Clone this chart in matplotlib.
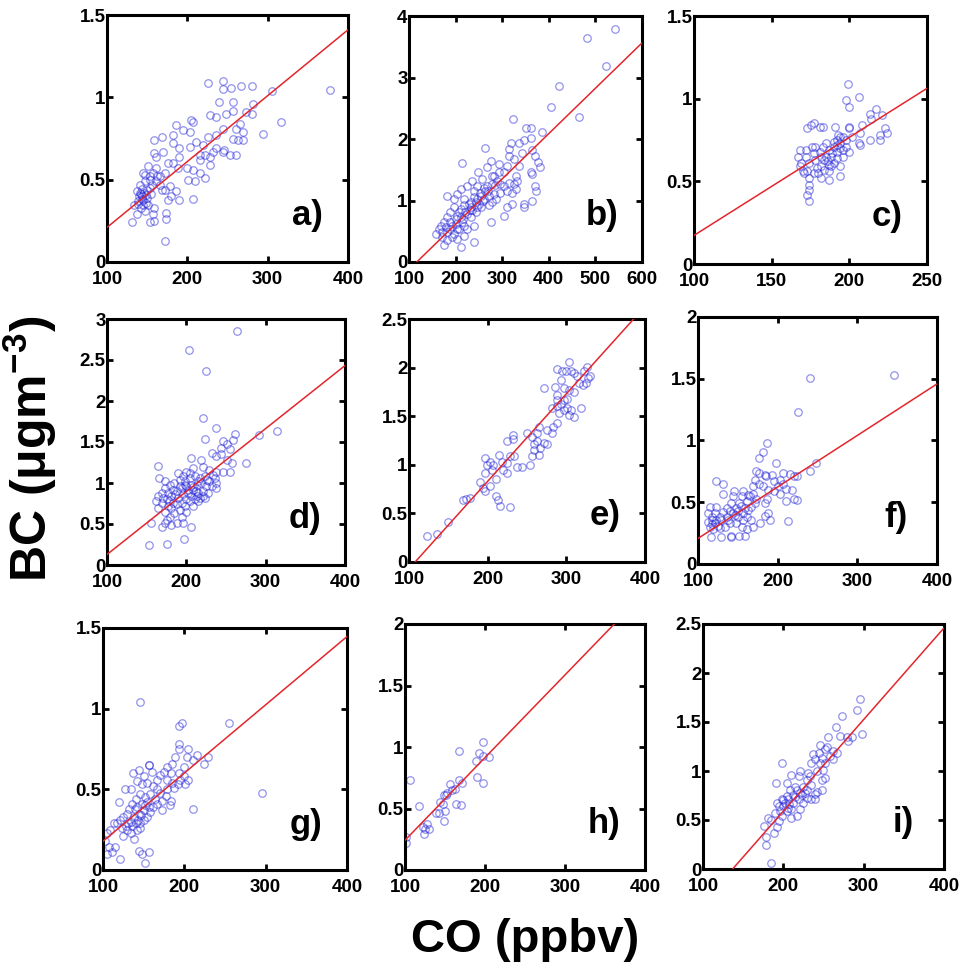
import matplotlib.pyplot as plt
import numpy as np

plt.rcParams['font.family'] = ['Liberation Sans', 'DejaVu Sans']
plt.rcParams['font.weight'] = 'bold'
plt.rcParams['mathtext.fontset'] = 'custom'
plt.rcParams['mathtext.rm'] = 'Liberation Sans:bold'
plt.rcParams['mathtext.bf'] = 'Liberation Sans:bold'

# ---- data: (CO ppbv, BC ugm-3) ----
a_pts = [(378, 1.045), (306, 1.04), (316, 0.85), (294, 0.78), (226, 1.085), (245, 1.10), (244, 1.05),
         (254, 1.055), (267, 1.07), (280, 1.07), (282, 0.96), (280, 0.90), (273, 0.91), (257, 0.97),
         (257, 0.92), (240, 0.97), (236, 0.88), (248, 0.90), (228, 0.89), (265, 0.84), (269, 0.79),
         (261, 0.81), (244, 0.81), (236, 0.77), (257, 0.75), (263, 0.74), (269, 0.74), (205, 0.86),
         (207, 0.85), (203, 0.79), (195, 0.80), (186, 0.83), (182, 0.77), (169, 0.76), (158, 0.74),
         (182, 0.72), (190, 0.69), (203, 0.70), (211, 0.73), (220, 0.71), (226, 0.76), (216, 0.65),
         (232, 0.67), (236, 0.69), (244, 0.67), (253, 0.65), (261, 0.65), (246, 0.68), (228, 0.64),
         (228, 0.59), (216, 0.54), (207, 0.56), (199, 0.57), (201, 0.50), (210, 0.49), (207, 0.385),
         (188, 0.57), (182, 0.60), (190, 0.64), (176, 0.60), (172, 0.54), (161, 0.57), (157, 0.54),
         (161, 0.64), (159, 0.66), (151, 0.58), (145, 0.54), (153, 0.52), (147, 0.49), (141, 0.47),
         (137, 0.43), (141, 0.42), (143, 0.40), (139, 0.37), (134, 0.345), (145, 0.375), (149, 0.405),
         (153, 0.45), (161, 0.49), (166, 0.47), (172, 0.44), (178, 0.46), (186, 0.43), (190, 0.375),
         (180, 0.40), (176, 0.375), (174, 0.30), (173, 0.26), (172, 0.13), (159, 0.25), (153, 0.24),
         (131, 0.24), (137, 0.29), (147, 0.31), (157, 0.29), (159, 0.33), (151, 0.345), (142, 0.415),
         (153, 0.50), (166, 0.52), (168, 0.44), (222, 0.51), (216, 0.62), (222, 0.65), (170, 0.67),
         (147, 0.53), (143, 0.445), (140, 0.40), (145, 0.345), (144, 0.38), (146, 0.42), (150, 0.44),
         (155, 0.41), (148, 0.36), (156, 0.47), (162, 0.52), (139, 0.35), (142, 0.33), (150, 0.39)]

b_pts = [(541, 3.79), (482, 3.65), (523, 3.19), (421, 2.86), (405, 2.52), (464, 2.36), (324, 2.33),
         (386, 2.11), (351, 2.18), (361, 2.18), (361, 2.02), (346, 1.99), (336, 1.93), (318, 1.93),
         (314, 1.83), (343, 1.78), (364, 1.82), (371, 1.73), (376, 1.62), (381, 1.54), (361, 1.46),
         (364, 1.43), (314, 1.73), (325, 1.67), (336, 1.56), (311, 1.56), (293, 1.59), (293, 1.46),
         (304, 1.46), (329, 1.40), (325, 1.27), (314, 1.29), (311, 1.16), (371, 1.24), (373, 1.16),
         (364, 1.00), (346, 0.94), (346, 0.89), (321, 0.94), (311, 0.89), (304, 0.75), (279, 0.97),
         (275, 0.65), (275, 1.64), (263, 1.85), (214, 1.61), (248, 1.47), (268, 1.54), (282, 1.40),
         (289, 1.32), (279, 1.27), (268, 1.24), (257, 1.35), (246, 1.24), (239, 1.16), (236, 1.32),
         (225, 1.24), (211, 1.19), (204, 1.11), (182, 1.08), (196, 1.02), (218, 1.02), (232, 0.97),
         (246, 1.02), (261, 1.02), (271, 1.08), (282, 1.11), (254, 0.89), (243, 0.81), (232, 0.73),
         (221, 0.81), (211, 0.86), (204, 0.75), (189, 0.81), (182, 0.73), (175, 0.65), (189, 0.65),
         (200, 0.62), (214, 0.65), (225, 0.54), (239, 0.59), (218, 0.43), (239, 0.32), (212, 0.24),
         (175, 0.27), (171, 0.40), (164, 0.54), (157, 0.46), (168, 0.59), (182, 0.49), (196, 0.46),
         (204, 0.38), (193, 0.40), (182, 0.35), (189, 0.54), (204, 0.54), (211, 0.73), (196, 0.89),
         (218, 0.92), (232, 0.89), (243, 0.97), (254, 1.08), (264, 1.16), (207, 0.81), (225, 0.78),
         (236, 0.84), (250, 0.94), (200, 0.70), (193, 0.59), (179, 0.57), (171, 0.49), (207, 0.54),
         (218, 0.59), (271, 0.92), (286, 1.02), (296, 1.13), (304, 1.24), (296, 1.27), (321, 1.13),
         (329, 1.19), (332, 1.32), (279, 1.40), (228, 0.95), (240, 1.05), (252, 1.12), (262, 1.20),
         (215, 0.70), (230, 0.85), (245, 0.90), (258, 1.00), (270, 1.15), (285, 1.25)]

c_pts = [(199, 1.09), (198, 0.99), (200, 0.95), (206, 1.01), (217, 0.94), (213, 0.91), (214, 0.88),
         (221, 0.90), (208, 0.84), (200, 0.83), (200, 0.82), (191, 0.83), (183, 0.83), (181, 0.83),
         (177, 0.85), (173, 0.82), (175, 0.84), (223, 0.82), (224, 0.79), (220, 0.78), (220, 0.75),
         (213, 0.75), (206, 0.73), (207, 0.79), (202, 0.77), (198, 0.75), (194, 0.77), (192, 0.75),
         (194, 0.73), (190, 0.71), (187, 0.69), (185, 0.73), (183, 0.71), (181, 0.68), (182, 0.65),
         (185, 0.65), (188, 0.65), (192, 0.68), (196, 0.69), (200, 0.68), (198, 0.71), (194, 0.70),
         (190, 0.61), (187, 0.60), (184, 0.57), (187, 0.56), (188, 0.59), (194, 0.59), (194, 0.53),
         (187, 0.51), (182, 0.52), (180, 0.55), (177, 0.55), (173, 0.56), (170, 0.56), (168, 0.59),
         (169, 0.61), (167, 0.65), (168, 0.69), (172, 0.69), (176, 0.71), (178, 0.71), (177, 0.67),
         (172, 0.65), (174, 0.61), (178, 0.63), (174, 0.52), (174, 0.48), (174, 0.45), (173, 0.42),
         (174, 0.38), (182, 0.59), (184, 0.63), (192, 0.64), (196, 0.65), (207, 0.72), (193, 0.78),
         (196, 0.77), (179, 0.58), (171, 0.55), (190, 0.74), (192, 0.72), (189, 0.67), (186, 0.62)]

d_pts = [(264, 2.85), (203, 2.62), (225, 2.37), (221, 1.79), (237, 1.67), (224, 1.54), (261, 1.60),
         (259, 1.53), (292, 1.58), (314, 1.63), (246, 1.51), (251, 1.47), (244, 1.43), (238, 1.33),
         (232, 1.37), (244, 1.35), (255, 1.41), (251, 1.28), (275, 1.24), (257, 1.24), (255, 1.14),
         (246, 1.14), (206, 1.30), (218, 1.28), (164, 1.21), (166, 1.06), (190, 1.12), (200, 1.14),
         (209, 1.18), (221, 1.20), (229, 1.16), (238, 1.14), (236, 1.06), (229, 1.02), (223, 1.08),
         (217, 1.06), (211, 1.08), (204, 1.06), (198, 1.02), (192, 1.04), (185, 1.00), (179, 0.98),
         (173, 1.02), (173, 0.94), (169, 0.88), (164, 0.84), (162, 0.78), (164, 0.70), (169, 0.76),
         (175, 0.80), (181, 0.84), (188, 0.90), (194, 0.94), (200, 0.96), (206, 0.98), (213, 0.98),
         (219, 1.00), (225, 0.96), (232, 0.96), (238, 1.00), (237, 0.94), (221, 0.90), (215, 0.88),
         (209, 0.92), (202, 0.88), (196, 0.86), (190, 0.82), (183, 0.76), (177, 0.72), (173, 0.65),
         (179, 0.59), (185, 0.63), (192, 0.67), (198, 0.72), (204, 0.78), (211, 0.80), (217, 0.82),
         (223, 0.82), (215, 0.78), (209, 0.72), (200, 0.65), (194, 0.59), (188, 0.51), (181, 0.49),
         (173, 0.51), (169, 0.46), (175, 0.55), (196, 0.51), (206, 0.46), (197, 0.32), (175, 0.26),
         (153, 0.25), (155, 0.51), (221, 0.84), (227, 0.88), (204, 1.12), (196, 1.08), (192, 0.96),
         (183, 0.92), (177, 0.88), (171, 0.82), (181, 0.70), (188, 0.74), (194, 0.76), (200, 0.80),
         (206, 0.84), (213, 0.84), (202, 0.92), (208, 0.95), (215, 1.02), (226, 1.04), (233, 1.10),
         (186, 0.86), (178, 0.78), (198, 0.98), (212, 0.90)]

e_pts = [(123, 0.27), (136, 0.29), (149, 0.41), (169, 0.64), (173, 0.65), (178, 0.66), (190, 0.82),
         (194, 0.76), (196, 0.73), (203, 0.78), (196, 0.92), (197, 1.07), (199, 1.00), (203, 1.03),
         (205, 0.95), (210, 0.85), (210, 0.68), (213, 0.64), (216, 0.58), (228, 0.57), (214, 1.10),
         (218, 1.03), (220, 0.95), (225, 0.92), (225, 1.02), (229, 1.09), (225, 1.25), (232, 1.31),
         (232, 1.27), (233, 1.09), (237, 0.98), (244, 0.98), (207, 1.00), (254, 1.00), (256, 1.09),
         (259, 1.21), (256, 1.29), (263, 1.33), (263, 1.24), (259, 1.15), (265, 1.10), (267, 1.17),
         (271, 1.22), (276, 1.21), (271, 1.79), (276, 1.36), (282, 1.33), (283, 1.39), (288, 1.43),
         (282, 1.58), (288, 1.60), (291, 1.53), (293, 1.63), (297, 1.56), (301, 1.58), (306, 1.56),
         (303, 1.51), (310, 1.49), (319, 1.58), (297, 1.67), (301, 1.68), (303, 1.77), (288, 1.72),
         (286, 1.80), (288, 1.99), (293, 1.87), (295, 1.96), (299, 1.96), (303, 2.06), (306, 1.97),
         (310, 1.94), (313, 1.91), (316, 1.84), (321, 1.82), (325, 1.84), (323, 1.97), (326, 2.01),
         (327, 1.89), (330, 1.91), (310, 1.75), (297, 1.79), (288, 1.67), (265, 1.39), (250, 1.33)]

f_pts = [(346, 1.53), (241, 1.51), (226, 1.23), (187, 0.98), (181, 0.91), (176, 0.86), (198, 0.82),
         (248, 0.82), (240, 0.75), (173, 0.75), (176, 0.74), (123, 0.67), (131, 0.65), (131, 0.57),
         (145, 0.59), (184, 0.72), (193, 0.72), (185, 0.71), (207, 0.74), (215, 0.73), (220, 0.71),
         (224, 0.71), (171, 0.68), (169, 0.63), (177, 0.65), (181, 0.63), (188, 0.60), (195, 0.59),
         (201, 0.63), (207, 0.65), (211, 0.61), (218, 0.60), (220, 0.53), (211, 0.51), (224, 0.52),
         (213, 0.35), (203, 0.57), (187, 0.53), (184, 0.49), (188, 0.41), (184, 0.39), (190, 0.36),
         (178, 0.33), (165, 0.55), (161, 0.51), (155, 0.55), (152, 0.49), (148, 0.45), (142, 0.49),
         (136, 0.45), (131, 0.42), (127, 0.38), (121, 0.41), (117, 0.36), (115, 0.30), (119, 0.28),
         (116, 0.22), (129, 0.22), (141, 0.23), (142, 0.22), (152, 0.23), (159, 0.23), (161, 0.28),
         (155, 0.30), (148, 0.33), (140, 0.33), (134, 0.30), (127, 0.29), (121, 0.33), (113, 0.41),
         (115, 0.46), (123, 0.46), (129, 0.36), (136, 0.38), (144, 0.41), (150, 0.38), (157, 0.41),
         (163, 0.44), (167, 0.46), (171, 0.49), (173, 0.53), (161, 0.38), (167, 0.36), (169, 0.30),
         (157, 0.36), (150, 0.43), (144, 0.55), (157, 0.59), (163, 0.56), (169, 0.57), (117, 0.38),
         (123, 0.36), (140, 0.43), (138, 0.36), (195, 0.67), (203, 0.68), (118, 0.32), (125, 0.31),
         (112, 0.34), (154, 0.47), (159, 0.45), (146, 0.40)]

g_pts = [(146, 1.04), (255, 0.91), (197, 0.91), (194, 0.89), (295, 0.48), (193, 0.78), (193, 0.75),
         (205, 0.75), (216, 0.71), (229, 0.70), (224, 0.66), (211, 0.68), (203, 0.70), (189, 0.70),
         (185, 0.66), (179, 0.64), (175, 0.61), (170, 0.59), (156, 0.65), (157, 0.65), (144, 0.62),
         (137, 0.60), (193, 0.60), (199, 0.58), (205, 0.56), (201, 0.53), (192, 0.53), (185, 0.54),
         (179, 0.56), (166, 0.56), (162, 0.52), (154, 0.54), (150, 0.58), (148, 0.53), (142, 0.55),
         (127, 0.50), (120, 0.42), (170, 0.48), (177, 0.46), (183, 0.43), (182, 0.40), (172, 0.37),
         (211, 0.38), (164, 0.44), (158, 0.47), (152, 0.45), (146, 0.47), (140, 0.44), (136, 0.41),
         (132, 0.38), (130, 0.35), (125, 0.33), (121, 0.31), (117, 0.29), (113, 0.29), (109, 0.25),
         (105, 0.23), (103, 0.18), (107, 0.14), (105, 0.10), (111, 0.11), (115, 0.14), (121, 0.07),
         (144, 0.12), (148, 0.10), (157, 0.11), (152, 0.045), (138, 0.19), (134, 0.23), (130, 0.25),
         (125, 0.21), (123, 0.26), (142, 0.25), (146, 0.29), (150, 0.31), (154, 0.33), (158, 0.36),
         (162, 0.39), (156, 0.39), (150, 0.37), (144, 0.35), (138, 0.33), (134, 0.30), (140, 0.29),
         (146, 0.26), (136, 0.27), (142, 0.39), (148, 0.41), (154, 0.42), (166, 0.41), (172, 0.43),
         (179, 0.50), (187, 0.51), (195, 0.56), (199, 0.64), (183, 0.60), (134, 0.50), (160, 0.61),
         (166, 0.50), (143, 0.31), (139, 0.38), (147, 0.34), (152, 0.40), (131, 0.29), (128, 0.27)]

h_pts = [(106, 0.73), (101, 0.27), (101, 0.22), (118, 0.52), (123, 0.35), (124, 0.29), (127, 0.375),
         (130, 0.33), (125, 0.33), (139, 0.46), (142, 0.46), (144, 0.55), (147, 0.54), (149, 0.40),
         (150, 0.48), (149, 0.61), (153, 0.63), (156, 0.70), (159, 0.65), (163, 0.66), (164, 0.54),
         (170, 0.53), (167, 0.73), (168, 0.97), (171, 0.71), (190, 0.76), (189, 0.89), (193, 0.95),
         (197, 1.04), (198, 0.93), (198, 0.71), (205, 0.92), (151, 0.61)]

i_pts = [(185, 0.06), (178, 0.24), (179, 0.33), (176, 0.44), (188, 0.37), (181, 0.52), (185, 0.50),
         (192, 0.43), (194, 0.49), (190, 0.57), (196, 0.59), (192, 0.67), (198, 0.71), (204, 0.74),
         (202, 0.67), (206, 0.62), (210, 0.52), (217, 0.54), (221, 0.61), (225, 0.67), (229, 0.72),
         (235, 0.71), (240, 0.71), (242, 0.79), (240, 0.77), (248, 0.81), (252, 0.93), (248, 0.91),
         (191, 0.88), (198, 1.08), (204, 0.88), (210, 0.96), (219, 0.95), (221, 1.00), (215, 0.84),
         (208, 0.81), (212, 0.76), (217, 0.81), (225, 0.84), (229, 0.91), (231, 0.98), (235, 1.08),
         (240, 1.12), (237, 1.17), (244, 1.18), (246, 1.27), (252, 1.22), (254, 1.25), (256, 1.35),
         (258, 1.15), (262, 1.12), (262, 1.20), (267, 1.18), (265, 1.45), (273, 1.56), (271, 1.36),
         (279, 1.35), (281, 1.31), (286, 1.35), (292, 1.62), (295, 1.73), (298, 1.38), (249, 1.01),
         (246, 1.08), (200, 0.64), (206, 0.71), (212, 0.67), (219, 0.71), (223, 0.76), (229, 0.81),
         (234, 0.86), (221, 0.78), (227, 0.78), (210, 0.61), (204, 0.59), (198, 0.54), (194, 0.64),
         (242, 1.00), (233, 0.95), (248, 1.13), (252, 1.08), (200, 0.70), (207, 0.66), (214, 0.73)]

# fitted lines: slope, intercept
slopes = [0.0040, 0.00737, 0.00593, 0.00768, 0.0090, 0.00417, 0.00423, 0.00672, 0.00935]
intercepts = [-0.19, -0.86, -0.42, -0.64, -0.97, -0.21, -0.245, -0.43, -1.28]

labels = ['a)', 'b)', 'c)', 'd)', 'e)', 'f)', 'g)', 'h)', 'i)']
xlims = [(100, 400), (100, 600), (100, 250), (100, 400), (100, 400),
         (100, 400), (100, 400), (100, 400), (100, 400)]
xsteps = [100, 100, 50, 100, 100, 100, 100, 100, 100]
ylims = [1.5, 4, 1.5, 3, 2.5, 2, 1.5, 2, 2.5]
ysteps = [0.5, 1, 0.5, 0.5, 0.5, 0.5, 0.5, 0.5, 0.5]
panels = [a_pts, b_pts, c_pts, d_pts, e_pts, f_pts, g_pts, h_pts, i_pts]

# axes boxes in pixels: left, right, top, bottom
boxes = [(107, 348, 15, 262), (409, 642, 16, 262), (694, 927, 16, 264),
         (107, 345, 319, 565), (409, 645, 319, 562), (698, 937, 317, 564),
         (103, 347, 628, 870), (405, 645, 624, 870), (703, 944, 624, 869)]

W, H = 961, 966
fig = plt.figure(figsize=(W / 100, H / 100), dpi=100)

for k in range(9):
    l, r, t, b = boxes[k]
    ax = fig.add_axes([l / W, 1 - b / H, (r - l) / W, (b - t) / H])
    pts = np.array(panels[k])
    ax.plot(pts[:, 0], pts[:, 1], 'o', mfc='none', mec=(0.15, 0.15, 0.85, 0.5),
            ms=5.4, mew=0.9, zorder=2)
    xs = np.array(xlims[k], dtype=float)
    ax.plot(xs, slopes[k] * xs + intercepts[k], color='#e3262b', lw=1.1, zorder=3)
    ax.set_xlim(*xlims[k])
    ax.set_ylim(0, ylims[k])
    ax.set_xticks(np.arange(xlims[k][0], xlims[k][1] + 1, xsteps[k]))
    ax.set_yticks(np.arange(0, ylims[k] + 1e-9, ysteps[k]))
    ax.yaxis.set_major_formatter(plt.FormatStrFormatter('%g'))
    ax.xaxis.set_major_formatter(plt.FormatStrFormatter('%g'))
    ax.tick_params(direction='in', length=4, width=2, top=True, right=True,
                   labelsize=13.5, pad=1)
    ax.tick_params(axis='x', pad=6.5)
    for lab in ax.get_xticklabels() + ax.get_yticklabels():
        lab.set_fontweight('bold')
    for s in ax.spines.values():
        s.set_linewidth(2.2)
    ax.text(0.83, 0.19, labels[k], transform=ax.transAxes, fontsize=25,
            fontweight='bold', ha='center', va='center')

fig.text(0.031, 0.535, r'BC (μgm$^{\mathbf{-3}}$)', rotation=90, fontsize=36,
         fontweight='bold', ha='center', va='center')
fig.text(0.546, 0.027, 'CO (ppbv)', fontsize=34, fontweight='bold',
         ha='center', va='center')

fig.savefig('out.png', dpi=100)
